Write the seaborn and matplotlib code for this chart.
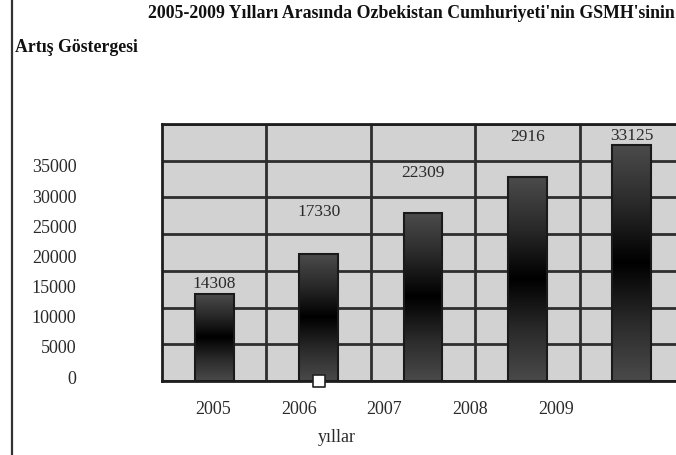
import numpy as np
import pandas as pd
import matplotlib
matplotlib.use("Agg")
import matplotlib.pyplot as plt
from matplotlib.colors import LinearSegmentedColormap
from matplotlib.lines import Line2D
import seaborn as sns

# ---- data ----
years = ["2005", "2006", "2007", "2008", "2009"]
bar_heights = [11850, 17330, 22900, 27800, 32200]
bar_labels = ["14308", "17330", "22309", "2916", "33125"]
tick_values = [0, 5000, 10000, 15000, 20000, 25000, 30000, 35000]
marker_year = ["2006"]
marker_value = [0]

title = "2005-2009 Yılları Arasında Ozbekistan Cumhuriyeti'nin GSMH'sinin"
subtitle = "Artış Göstergesi"
xlabel = "yıllar"

# ---- style ----
label_offsets_pt = [7, 30, 29, 29, 6]
serif = ["Liberation Serif", "DejaVu Serif"]

sns.set_theme(style="white")
plt.rcParams["font.family"] = serif

W, H = 676, 455
fig = plt.figure(figsize=(W / 100, H / 100), dpi=100)

def fx(px):
    return px / W

def fy(py):
    return 1 - py / H

df = pd.DataFrame({"year": years, "value": bar_heights})

# main plot area (extends past the right edge like the reference)
ax = fig.add_axes([fx(162), fy(381), (684 - 162) / W, (381 - 124) / H])
ax.set_facecolor("#d2d2d2")
sns.barplot(data=df, x="year", y="value", ax=ax, color="#444444",
            width=0.37, edgecolor="#1a1a1a", linewidth=1.5, zorder=3)
ax.set_xlim(-0.5, len(years) - 0.5)
ax.set_ylim(0, 35000)
ax.set_yticks(tick_values)
ax.set_xticks(np.arange(len(years)) + 0.5, minor=True)
ax.tick_params(axis="both", which="both", length=0, labelleft=False, labelbottom=False)
ax.grid(axis="y", which="major", color="#2e2e2e", linewidth=2, zorder=1)
ax.grid(axis="x", which="minor", color="#2e2e2e", linewidth=2, zorder=1)
ax.grid(axis="x", which="major", visible=False)
ax.set_xlabel("")
ax.set_ylabel("")
for side, sp in ax.spines.items():
    sp.set_color("#1e1e1e")
    sp.set_linewidth(2)

# gradient fill inside each bar
cmap = LinearSegmentedColormap.from_list(
    "g", ["#4c4c4c", "#2a2a2a", "#000000", "#2a2a2a", "#4a4a4a"])
grad = np.linspace(0, 1, 256).reshape(-1, 1)
for p in ax.patches:
    x0, y0 = p.get_x(), p.get_y()
    w, h = p.get_width(), p.get_height()
    im = ax.imshow(grad, cmap=cmap, aspect="auto",
                   extent=[x0, x0 + w, y0, y0 + h], zorder=3.5)
    im.set_clip_path(p)
    p.set_facecolor("none")
    p.set_zorder(4)
ax.set_xlim(-0.5, len(years) - 0.5)
ax.set_ylim(0, 35000)

# value labels
for p, lab, off in zip(ax.patches, bar_labels, label_offsets_pt):
    ax.annotate(lab, (p.get_x() + p.get_width() / 2, p.get_height()),
                xytext=(0, off), textcoords="offset points",
                ha="center", va="center", fontsize=12.5, color="#2a2a2a",
                zorder=6, family=serif)

# small white square marker
sns.scatterplot(x=marker_year, y=marker_value, ax=ax, marker="s", s=70,
                color="white", edgecolor="#222222", linewidth=1.2,
                zorder=7, clip_on=False, legend=False)

# y tick labels (offset scale, as in the reference)
ay = fig.add_axes([fx(82), fy(377), 0.001, (377 - 166) / H])
ay.set_ylim(tick_values[0], tick_values[-1])
ay.set_yticks(tick_values)
ay.set_yticklabels([str(v) for v in tick_values], fontsize=13, color="#2a2a2a",
                   family=serif)
ay.tick_params(axis="y", length=0, pad=4)
ay.set_xticks([])
ay.patch.set_visible(False)
for sp in ay.spines.values():
    sp.set_visible(False)

# x tick labels (offset positions, as in the reference)
axx = fig.add_axes([fx(170), fy(395), (599 - 170) / W, 0.001])
axx.set_xlim(-0.5, len(years) - 0.5)
axx.set_xticks(range(len(years)))
axx.set_xticklabels(years, fontsize=13, color="#2a2a2a", family=serif)
axx.tick_params(axis="x", length=0, pad=4)
axx.set_yticks([])
axx.patch.set_visible(False)
for sp in axx.spines.values():
    sp.set_visible(False)

# texts
fig.text(fx(148), fy(14), title, fontsize=12.8, fontweight="bold",
         ha="left", va="center", color="#111111", family=serif)
fig.text(fx(15), fy(48), subtitle, fontsize=12.8, fontweight="bold",
         ha="left", va="center", color="#111111", family=serif)
fig.text(fx(337), fy(437), xlabel, fontsize=13, ha="center", va="center",
         color="#2a2a2a", family=serif)

# left border line
fig.add_artist(Line2D([fx(12), fx(12)], [0, 1], color="#333333", linewidth=1.6))

fig.savefig("out.png", dpi=100)
